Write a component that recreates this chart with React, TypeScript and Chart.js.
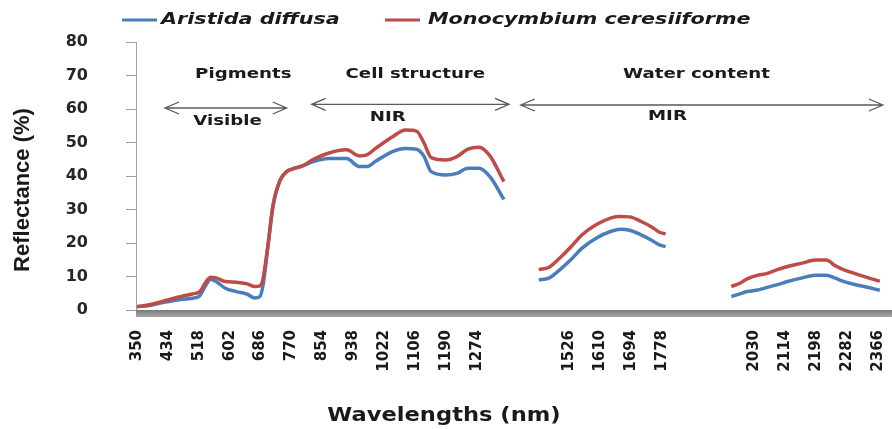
import React, { useEffect, useRef } from 'react';
import { Chart, registerables } from 'chart.js';

Chart.register(...registerables);

// ---- data ----
const wavelengths = [
  350, 380, 420, 460, 500, 520, 535, 550, 565, 590, 620, 650, 670, 684, 692, 705, 720, 738, 757, 770,
  800, 830, 870, 920, 955, 975, 1000, 1045, 1080, 1110, 1130, 1150, 1190, 1220, 1250, 1280, 1310, 1348,
  1400,
  1443, 1470, 1500, 1530, 1560, 1600, 1640, 1665, 1690, 1720, 1750, 1770, 1788,
  1880,
  1967, 1990, 2010, 2040, 2060, 2090, 2120, 2160, 2195, 2225, 2250, 2270, 2300, 2340, 2371,
];

const aristidaDiffusa = [
  1.0, 1.3, 2.2, 3.0, 3.5, 4.2, 7.0, 9.2, 8.5, 6.5, 5.5, 4.7, 3.6, 4.0, 7.0, 18, 31, 38.5, 41.3, 42,
  43, 44.3, 45.2, 45.2, 42.8, 42.8, 44.5, 47.3, 48.2, 48.0, 46, 41.3, 40.3, 40.8, 42.3, 42.3, 39.8, 33,
  null,
  9.0, 9.5, 12, 15, 18.4, 21.5, 23.5, 24.1, 23.8, 22.5, 20.8, 19.5, 18.9,
  null,
  4.0, 4.8, 5.5, 6.0, 6.6, 7.5, 8.5, 9.6, 10.4, 10.4, 9.5, 8.6, 7.7, 6.7, 5.9,
];

const monocymbiumCeresiiforme = [
  1.0, 1.5, 2.6, 3.8, 4.8, 5.4, 8.0, 9.8, 9.6, 8.5, 8.3, 7.8, 7.0, 7.2, 9.0, 18.5, 31.5, 38.5, 41.3, 42,
  43, 45.0, 46.8, 47.8, 46.0, 46.3, 48.3, 51.7, 53.7, 53.4, 50, 45.5, 44.8, 45.8, 48, 48.6, 46, 38.3,
  null,
  12.1, 12.7, 15.5, 18.8, 22.4, 25.5, 27.5, 27.9, 27.8, 26.5, 24.8, 23.3, 22.7,
  null,
  7.0, 8.0, 9.3, 10.4, 10.8, 12.0, 13.0, 14.0, 14.9, 14.9, 13.2, 12.1, 11.0, 9.6, 8.6,
];

const seriesNames = ['Aristida diffusa', 'Monocymbium ceresiiforme'];

// x tick marks every 84 nm from 350; some labels are blank in the original
const xTickValues = [
  350, 434, 518, 602, 686, 770, 854, 938, 1022, 1106, 1190, 1274, 1358, 1442,
  1526, 1610, 1694, 1778, 1862, 1946, 2030, 2114, 2198, 2282, 2366,
];
const xHiddenLabels = [1358, 1442, 1862, 1946];

// region annotations (in data units)
const regionTitles = ['Pigments', 'Cell structure', 'Water content'];
const regionTitleCenters = [639, 1107, 1872];
const regionTitleLevel = 70.2;

const bandNames = ['Visible', 'NIR', 'MIR'];
const bandNameCenters = [596, 1032, 1793];
const bandNameLevels = [56.4, 57.6, 57.9];
const bandArrowStarts = [426, 825, 1394];
const bandArrowEnds = [757, 1362, 2379];
const bandArrowLevels = [60.3, 61.4, 61.2];

const BLUE = '#4a7ebb';
const RED = '#be4b48';
const TEXT = '#1a1a1a';

function stretchText(
  ctx: CanvasRenderingContext2D,
  text: string,
  x: number,
  y: number,
  font: string,
  sx: number,
  align: CanvasTextAlign,
) {
  ctx.save();
  ctx.font = font;
  ctx.fillStyle = TEXT;
  ctx.textAlign = align;
  ctx.textBaseline = 'middle';
  ctx.translate(x, y);
  ctx.scale(sx, 1);
  ctx.fillText(text, 0, 0);
  ctx.restore();
}

function drawArrow(ctx: CanvasRenderingContext2D, x1: number, x2: number, y: number) {
  ctx.beginPath();
  ctx.moveTo(x1, y);
  ctx.lineTo(x2, y);
  ctx.moveTo(x1 + 14, y - 6);
  ctx.lineTo(x1, y);
  ctx.lineTo(x1 + 14, y + 6);
  ctx.moveTo(x2 - 14, y - 6);
  ctx.lineTo(x2, y);
  ctx.lineTo(x2 - 14, y + 6);
  ctx.stroke();
}

const overlayPlugin = {
  id: 'overlay',
  beforeDatasetsDraw(chart: any) {
    const { ctx, chartArea } = chart;
    ctx.save();
    const g = ctx.createLinearGradient(0, chartArea.bottom, 0, chartArea.bottom + 7);
    g.addColorStop(0, '#7a7a7a');
    g.addColorStop(1, '#a8a8a8');
    ctx.fillStyle = g;
    ctx.fillRect(chartArea.left, chartArea.bottom, chartArea.right - chartArea.left, 7);
    ctx.restore();
  },
  afterDraw(chart: any) {
    const { ctx } = chart;
    const xs = chart.scales.x;
    const ys = chart.scales.y;

    // legend
    const legendFont = 'italic bold 15px "DejaVu Sans"';
    const samples = [
      { x1: 122, x2: 157, tx: 161, color: BLUE },
      { x1: 385, x2: 420, tx: 428, color: RED },
    ];
    samples.forEach((s, i) => {
      ctx.save();
      ctx.strokeStyle = s.color;
      ctx.lineWidth = 3;
      ctx.beginPath();
      ctx.moveTo(s.x1, 20);
      ctx.lineTo(s.x2, 20);
      ctx.stroke();
      ctx.restore();
      stretchText(ctx, seriesNames[i], s.tx, 20, legendFont, 1.38, 'left');
    });

    // axis titles
    stretchText(ctx, 'Wavelengths (nm)', 444, 416, 'bold 20px "DejaVu Sans"', 1.13, 'center');
    ctx.save();
    ctx.translate(23, 190);
    ctx.rotate(-Math.PI / 2);
    ctx.font = 'bold 22px "Liberation Sans"';
    ctx.fillStyle = TEXT;
    ctx.textAlign = 'center';
    ctx.textBaseline = 'middle';
    ctx.fillText('Reflectance (%)', 0, 0);
    ctx.restore();

    // region annotations
    const annFont = 'bold 14px "DejaVu Sans"';
    regionTitles.forEach((t, i) => {
      stretchText(ctx, t, xs.getPixelForValue(regionTitleCenters[i]), ys.getPixelForValue(regionTitleLevel), annFont, 1.3, 'center');
    });
    bandNames.forEach((t, i) => {
      stretchText(ctx, t, xs.getPixelForValue(bandNameCenters[i]), ys.getPixelForValue(bandNameLevels[i]), annFont, 1.3, 'center');
    });
    ctx.save();
    ctx.strokeStyle = '#5a5a5a';
    ctx.lineWidth = 1.3;
    bandArrowStarts.forEach((s, i) => {
      drawArrow(ctx, xs.getPixelForValue(s), xs.getPixelForValue(bandArrowEnds[i]), ys.getPixelForValue(bandArrowLevels[i]));
    });
    ctx.restore();
  },
};

export default function App() {
  const canvasRef = useRef<HTMLCanvasElement | null>(null);

  useEffect(() => {
    const canvas = canvasRef.current;
    if (!canvas) return;
    const toPoints = (vals: (number | null)[]) => wavelengths.map((x, i) => ({ x, y: vals[i] }));

    const chart = new Chart(canvas, {
      type: 'line',
      data: {
        datasets: [
          {
            label: seriesNames[0],
            data: toPoints(aristidaDiffusa) as any,
            borderColor: BLUE,
            backgroundColor: BLUE,
            borderWidth: 3.5,
            pointRadius: 0,
            cubicInterpolationMode: 'monotone',
            spanGaps: false,
            order: 2,
          },
          {
            label: seriesNames[1],
            data: toPoints(monocymbiumCeresiiforme) as any,
            borderColor: RED,
            backgroundColor: RED,
            borderWidth: 3.5,
            pointRadius: 0,
            cubicInterpolationMode: 'monotone',
            spanGaps: false,
            order: 1,
          },
        ],
      },
      options: {
        responsive: false,
        animation: false,
        devicePixelRatio: 1,
        layout: { padding: { top: 42, left: 0, right: 0, bottom: 0 } },
        plugins: {
          legend: { display: false },
          tooltip: { enabled: false },
        },
        scales: {
          x: {
            type: 'linear',
            min: 347,
            max: 2404,
            afterBuildTicks: (scale: any) => {
              scale.ticks = xTickValues.map((v) => ({ value: v }));
            },
            afterFit: (scale: any) => {
              scale.height = 119;
              scale.paddingLeft = 0;
              scale.paddingRight = 0;
              scale.paddingTop = 0;
              scale.paddingBottom = 0;
            },
            grid: { display: false, drawTicks: false },
            border: { display: false },
            ticks: {
              autoSkip: false,
              minRotation: 90,
              maxRotation: 90,
              padding: 20,
              color: TEXT,
              font: { family: 'DejaVu Sans', weight: 'bold', size: 15 },
              callback: (v: any) => (xHiddenLabels.includes(Number(v)) ? '' : String(v)),
            },
          },
          y: {
            min: 0,
            max: 80,
            afterFit: (scale: any) => {
              scale.width = 136;
              scale.paddingLeft = 0;
              scale.paddingRight = 0;
              scale.paddingTop = 0;
              scale.paddingBottom = 0;
            },
            grid: { drawOnChartArea: false, drawTicks: true, tickLength: 10, color: '#a0a0a0' },
            border: { color: '#a0a0a0', width: 1 },
            ticks: {
              stepSize: 10,
              padding: 38,
              color: '#262626',
              font: { family: 'DejaVu Sans', weight: 'bold', size: 16 },
            },
          },
        },
      },
      plugins: [overlayPlugin],
    });

    return () => chart.destroy();
  }, []);

  return (
    <div style={{ position: 'fixed', left: 0, top: 0, width: 892, height: 429, background: '#ffffff' }}>
      <canvas ref={canvasRef} width={892} height={429} style={{ display: 'block' }} />
    </div>
  );
}
